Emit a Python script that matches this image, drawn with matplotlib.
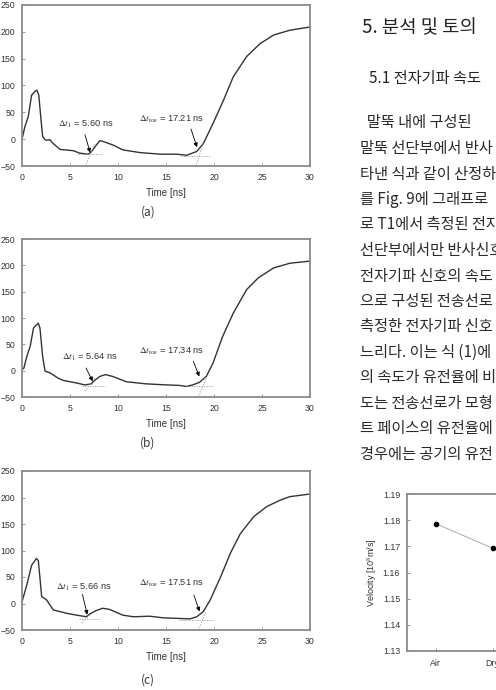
import numpy as np
import matplotlib
matplotlib.use("Agg")
import matplotlib.pyplot as plt

plt.rcParams['font.family'] = ['Liberation Sans', 'DejaVu Sans']
plt.rcParams['mathtext.fontset'] = 'stix'

# --- waveform data ---
ta = [0, 0.3, 0.65, 1.0, 1.3, 1.55, 1.75, 1.95, 2.15, 2.4, 2.6, 2.9, 3.25, 3.95, 5.35, 6.0,
      6.9, 7.25, 7.7, 8.1, 8.4, 9.5, 10.5, 12.3, 14.4, 16.1, 17.15, 18.2, 18.9, 19.9, 21.0,
      22.0, 23.4, 24.8, 26.2, 27.9, 30]
va = [0, 23, 42, 82, 88, 91.5, 82, 42, 5, -1, -2, -1, -8, -19, -21.5, -26,
      -28, -23, -12, -3, -4, -11, -20, -25, -28, -28, -30, -23, -8, 29.5, 73,
      116, 154, 178, 194, 203, 209]

tb = [0, 0.2, 0.5, 0.85, 1.2, 1.45, 1.7, 1.87, 2.15, 2.4, 2.9, 3.75, 4.3, 5.7, 6.55, 7.25,
      7.4, 8.1, 8.7, 9.45, 10.85, 12.9, 15.0, 16.4, 17.1, 17.8, 18.5, 19.2, 19.9, 20.9,
      22.0, 23.4, 24.6, 26.2, 27.9, 30]
vb = [2, 5, 27, 46, 81, 86, 90, 81, 27, -1, -4, -14, -18.5, -23.5, -27, -25,
      -21, -11, -7.5, -11, -21, -25, -27, -28, -30, -27, -22, -11, 14.5, 65,
      109, 154, 176, 195, 204, 208]

tc = [0, 0.5, 1.0, 1.5, 1.7, 2.05, 2.55, 3.25, 4.65, 5.7, 6.7, 7.05, 7.7, 8.4, 9.1, 10.5,
      11.6, 13.3, 14.7, 16.1, 17.5, 18.2, 18.9, 19.6, 20.7, 21.7, 22.75, 24.15, 25.5, 26.9,
      27.9, 30]
vc = [3, 35, 72, 85, 81, 13, 7, -12, -18.5, -22, -25, -20, -13.5, -9, -11, -22,
      -25, -24, -27, -28, -29, -25, -15, 6.6, 50.6, 94.7, 132, 164, 183, 195,
      201.6, 206.6]

dt1_labels = ["5.60", "5.64", "5.66"]
dttoe_labels = ["17.21", "17.34", "17.51"]
panel_names = ["(a)", "(b)", "(c)"]

# velocity chart
cats = ["Air", "Dry"]
vel = [1.1787, 1.1693]

# page text
heading = "5. 분석 및 토의"
subheading = "5.1 전자기파 속도"
body = ["  말뚝 내에 구성된",
        "말뚝 선단부에서 반사",
        "타낸 식과 같이 산정하",
        "를 Fig. 9에 그래프로",
        "로 T1에서 측정된 전자",
        "선단부에서만 반사신호",
        "전자기파 신호의 속도",
        "으로 구성된 전송선로",
        "측정한 전자기파 신호",
        "느리다. 이는 식 (1)에",
        "의 속도가 유전율에 비",
        "도는 전송선로가 모형",
        "트 페이스의 유전율에",
        "경우에는 공기의 유전"]

fig = plt.figure(figsize=(4.96, 6.90), dpi=100)
W, H = 496.0, 690.0

def box(l, t, r, b):
    return [l / W, 1 - b / H, (r - l) / W, (b - t) / H]

spine_c = '#8a8a8a'
txt_c = '#333333'

def style(ax):
    for s in ax.spines.values():
        s.set_color(spine_c)
        s.set_linewidth(1.3)
    ax.tick_params(direction='in', length=2, width=0.6, color=spine_c,
                   labelsize=6.3, labelcolor=txt_c)

waves = [(ta, va), (tb, vb), (tc, vc)]
boxes = [(22, 5, 310, 166), (22, 239, 310, 397), (22, 471, 310, 630)]
# arrows: (tail, head) for dt1 and dttoe, text positions
arrows1 = [((6.56, 8), (7.1, -25)), ((6.67, 5), (7.36, -20)), ((6.3, 17), (6.8, -21))]
arrows2 = [((17.6, 19), (18.23, -15)), ((17.85, 17.5), (18.47, -11)), ((17.9, 16), (18.5, -15))]
txt1 = [(3.75, 28), (4.17, 25), (3.54, 30)]
txt2 = [(12.2, 37.5), (12.2, 36.5), (12.2, 37)]
flat1 = [(5.8, 8.3, -28), (6.2, 8.6, -30), (5.9, 8.1, -30)]
slope1 = [((6.6, -50), (7.6, -7)), ((6.56, -39), (7.6, -14)), ((6.2, -37), (7.1, -21))]
flat2 = [(16.6, 19.6, -31), (17.1, 19.9, -30), (16.4, 19.9, -31)]
slope2 = [((18.1, -50), (18.9, -7)), ((18.4, -50), (19.2, -14)), ((18.4, -50), (19.1, -17))]
name_y = [212, 443, 680]

for i in range(3):
    ax = fig.add_axes(box(*boxes[i]))
    style(ax)
    t, v = waves[i]
    ax.plot(t, v, color='#333333', lw=1.0)
    ax.set_xlim(0, 30)
    ax.set_ylim(-50, 250)
    ax.set_xticks(np.arange(0, 31, 5))
    ax.set_yticks(np.arange(-50, 251, 50))
    ax.tick_params(axis='x', pad=5)
    ax.tick_params(axis='y', pad=5)
    ax.set_xlabel("Time [ns]", fontsize=7, color=txt_c, labelpad=4.5)
    # tangent lines
    x0, x1, yy = flat1[i]
    ax.plot([x0, x1], [yy, yy], color='#9a9a9a', lw=0.6, ls=(0, (1.5, 1.5)))
    ax.plot(*zip(*slope1[i]), color='#9a9a9a', lw=0.6, ls=(0, (1.5, 1.5)))
    x0, x1, yy = flat2[i]
    ax.plot([x0, x1], [yy, yy], color='#9a9a9a', lw=0.6, ls=(0, (1.5, 1.5)))
    ax.plot(*zip(*slope2[i]), color='#9a9a9a', lw=0.6, ls=(0, (1.5, 1.5)))
    ap = dict(arrowstyle='-|>', lw=0.6, color='k', mutation_scale=6, shrinkA=0, shrinkB=0)
    ax.annotate('', xy=arrows1[i][1], xytext=arrows1[i][0], arrowprops=ap)
    ax.annotate('', xy=arrows2[i][1], xytext=arrows2[i][0], arrowprops=ap)
    ax.text(*txt1[i], r"$\Delta t_1$ = " + dt1_labels[i] + " ns", fontsize=6.7,
            color=txt_c, va='center', ha='left')
    ax.text(*txt2[i], r"$\Delta t_{\rm toe}$ = " + dttoe_labels[i] + " ns", fontsize=6.7,
            color=txt_c, va='center', ha='left')
    fig.text(148 / W, 1 - name_y[i] / H, panel_names[i], fontsize=8.5, color=txt_c,
             ha='center', va='center', family=['Noto Sans CJK KR', 'DejaVu Sans'])

# velocity chart (runs off the right edge of the page)
axv = fig.add_axes(box(407, 494, 407 + 57 * 4, 651))
style(axv)
xs = np.arange(len(cats))
axv.plot(xs, vel, color='#aaaaaa', lw=0.7, marker='o', ms=3,
         mfc='k', mec='k')
axv.set_xlim(-0.5, 3.5)
axv.set_ylim(1.13, 1.19)
axv.set_xticks(xs)
axv.set_xticklabels(cats)
axv.set_yticks(np.arange(1.13, 1.1901, 0.01))
axv.set_yticklabels(["%.2f" % y for y in np.arange(1.13, 1.1901, 0.01)])
axv.tick_params(axis='x', pad=6)
axv.tick_params(axis='y', pad=5)
axv.set_ylabel("Velocity [10$^8$m/s]", fontsize=6.5, color=txt_c, labelpad=3)

# page text
kfont = ['Noto Sans CJK KR', 'DejaVu Sans']
fig.text(362 / W, 1 - 28 / H, heading, fontsize=13.5, color='#222222', va='center',
         ha='left', family=kfont)
fig.text(369 / W, 1 - 79 / H, subheading, fontsize=11, color='#222222', va='center',
         ha='left', family=kfont)
for k, line in enumerate(body):
    fig.text(360 / W, 1 - (123 + 25.5 * k) / H, line, fontsize=11, color='#2a2a2a',
             va='center', ha='left', family=kfont)

fig.savefig("out.png", dpi=100)
